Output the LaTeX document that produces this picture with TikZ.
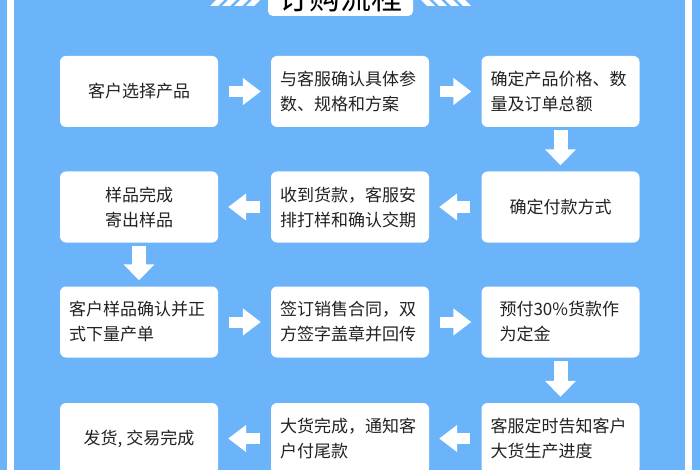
\documentclass[tikz,border=0pt]{standalone}
\usepackage{fontspec}
\setmainfont{Noto Sans CJK SC}
\usetikzlibrary{arrows.meta}
\definecolor{bgblue}{HTML}{6CB4FA}
\definecolor{txt}{HTML}{222222}
\begin{document}
\begin{tikzpicture}[x=1pt,y=-1pt,
  box/.style={fill=white, rounded corners=6pt, minimum width=158pt, minimum height=71pt, inner sep=0pt, text=txt, font=\fontsize{17}{25}\selectfont},
  two/.style={text width=140pt, align=left},
  one/.style={align=center},
  hflow/.style={draw=white, line width=11pt, shorten <=11pt, shorten >=10pt, -{Triangle[length=18pt,width=26pt]}},
  vflow/.style={draw=white, line width=14pt, shorten <=3pt, shorten >=6pt, -{Triangle[length=16pt,width=30pt]}}]
\useasboundingbox (0,0) rectangle (700,470);
\fill[bgblue] (0,0) rectangle (700,470);
\fill[white] (7,0) rectangle (14,470);
\fill[white] (685,0) rectangle (692,470);
% title
\node[fill=white, rounded corners=5pt, minimum width=145pt, minimum height=46pt, inner sep=0pt] (title) at (340.5,-7) {};
\node[font=\fontsize{31}{31}\selectfont, text=black, inner sep=0pt] (titletext) at (340.5,-2) {订购流程};
\foreach \a in {210,222,234,246}
  \fill[white] (\a,6) -- ++(8,0) -- ++(14,-14) -- ++(-14,-14) -- ++(-8,0) -- ++(14,14) -- cycle;
\foreach \b in {471,459,447,435}
  \fill[white] (\b,6) -- ++(-8,0) -- ++(-14,-14) -- ++(14,-14) -- ++(8,0) -- ++(-14,14) -- cycle;
% boxes
\node[box,one] (b1) at (139,91.5) {客户选择产品};
\node[box,two] (b2) at (350,91.5) {与客服确认具体参\\数、规格和方案};
\node[box,two] (b3) at (560.5,91.5) {确定产品价格、数\\量及订单总额};
\node[box,one] (b4) at (560.5,207) {确定付款方式};
\node[box,two] (b5) at (350,207) {收到货款，客服安\\排打样和确认交期};
\node[box,one] (b6) at (139,207) {样品完成\\寄出样品};
\node[box,two] (b7) at (139,322) {客户样品确认并正\\式下量产单};
\node[box,two] (b8) at (350,322) {签订销售合同，双\\方签字盖章并回传};
\node[box,two,text width=122pt] (b9) at (560.5,322) {预付30\%货款作\\为定金};
\node[box,two] (b10) at (560.5,438.5) {客服定时告知客户\\大货生产进度};
\node[box,two] (b11) at (350,438.5) {大货完成，通知客\\户付尾款};
\node[box,one] (b12) at (139,438.5) {发货, 交易完成};
% arrows
\draw[hflow] (b1) -- (b2);
\draw[hflow] (b2) -- (b3);
\draw[vflow] (b3) -- (b4);
\draw[hflow] (b4) -- (b5);
\draw[hflow] (b5) -- (b6);
\draw[vflow] (b6) -- (b7);
\draw[hflow] (b7) -- (b8);
\draw[hflow] (b8) -- (b9);
\draw[vflow] (b9) -- (b10);
\draw[hflow] (b10) -- (b11);
\draw[hflow] (b11) -- (b12);
\end{tikzpicture}
\end{document}
